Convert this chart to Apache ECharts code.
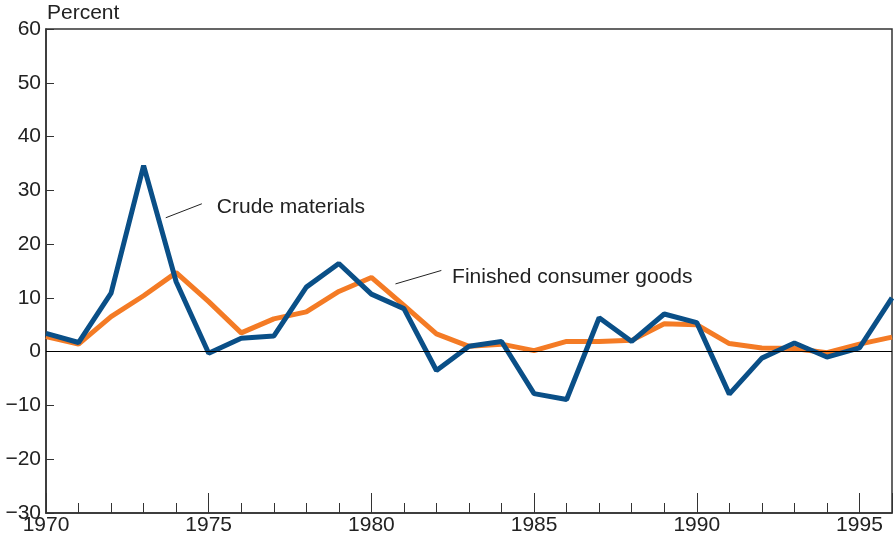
<!DOCTYPE html>
<html><head><meta charset="utf-8">
<script src="https://cdn.jsdelivr.net/npm/echarts@6/dist/echarts.min.js"></script>
<style>html,body{margin:0;padding:0;background:#fff}#c{width:895px;height:546px}</style>
</head><body><div id="c"></div>
<script>
const years = [1970,1971,1972,1973,1974,1975,1976,1977,1978,1979,1980,1981,1982,1983,1984,1985,1986,1987,1988,1989,1990,1991,1992,1993,1994,1995,1996];
const crudeMaterials = [3.4,1.7,10.9,34.6,13.0,-0.3,2.5,2.9,12.0,16.4,10.7,8.0,-3.5,1.0,1.9,-7.8,-8.9,6.3,1.9,7.0,5.4,-7.9,-1.2,1.6,-1.0,0.7,10.0];
const finishedConsumerGoods = [2.8,1.4,6.5,10.4,14.7,9.3,3.5,6.1,7.4,11.2,13.8,8.6,3.3,1.0,1.4,0.2,1.9,1.9,2.1,5.2,5.0,1.5,0.7,0.6,-0.2,1.4,2.7];
const yTicks = {min:-30, max:60, interval:10};
const labelCrude = 'Crude materials';
const labelFinished = 'Finished consumer goods';
const unitLabel = 'Percent';

const FONT = '"Liberation Sans", Arial, sans-serif';
const FS = 21;
const chart = echarts.init(document.getElementById('c'), null, {renderer:'canvas'});
const pair = (xs, ys) => xs.map((x,i)=>[x, ys[i]]);
chart.setOption({
  animation:false,
  grid:{left:46, right:2, top:29, bottom:33, show:true, borderColor:'#333', borderWidth:1.5},
  xAxis:[
    {type:'value', min:1970, max:1996, interval:5,
     axisLine:{show:true, onZero:false, lineStyle:{color:'#333', width:1.5}},
     axisTick:{show:true, inside:true, length:20, lineStyle:{color:'#333', width:1}},
     axisLabel:{color:'#222', fontFamily:FONT, fontSize:FS, margin:2,
       formatter:v=> (v%5===0 && v<1996)? String(v):''},
     splitLine:{show:false}},
    {type:'value', min:1970, max:1996, interval:1, position:'bottom',
     axisLine:{show:false, onZero:false},
     axisTick:{show:true, inside:true, length:10, lineStyle:{color:'#333', width:1}},
     axisLabel:{show:false}, splitLine:{show:false}}
  ],
  yAxis:{type:'value', min:yTicks.min, max:yTicks.max, interval:yTicks.interval,
    axisLine:{show:true, onZero:false, lineStyle:{color:'#333', width:1.5}},
    axisTick:{show:true, inside:true, length:8, lineStyle:{color:'#333', width:1}},
    axisLabel:{color:'#222', fontFamily:FONT, fontSize:FS, margin:5,
      formatter:v=> String(v).replace('-', '\u2212')},
    splitLine:{show:false}},
  series:[
    {type:'line', data:[], z:1, silent:true,
     markLine:{silent:true, symbol:'none', label:{show:false},
       lineStyle:{color:'#000', width:1, type:'solid'}, data:[{yAxis:0}]}},
    {name:labelFinished, type:'line', data:pair(years, finishedConsumerGoods), showSymbol:false,
     lineStyle:{color:'#f47b25', width:5}, itemStyle:{color:'#f47b25'}, z:3},
    {name:labelCrude, type:'line', data:pair(years, crudeMaterials), showSymbol:false,
     lineStyle:{color:'#0a4f87', width:5}, itemStyle:{color:'#0a4f87'}, z:4}
  ]
});
const P = (x,y)=>chart.convertToPixel({xAxisIndex:0, yAxisIndex:0},[x,y]);
const a1 = P(1973.68,24.9), a2 = P(1974.79,27.5), t1 = P(1975.25,26.8);
const b1 = P(1980.74,12.6), b2 = P(1982.15,15.1), t2 = P(1982.48,13.8);
chart.setOption({graphic:[
  {type:'text', left:47, top:3, style:{text:unitLabel, font:FS+'px '+FONT, fill:'#222'}},
  {type:'line', shape:{x1:a1[0],y1:a1[1],x2:a2[0],y2:a2[1]}, style:{stroke:'#222', lineWidth:1}},
  {type:'text', x:t1[0], y:t1[1], style:{text:labelCrude, font:FS+'px '+FONT, fill:'#222', textVerticalAlign:'middle'}},
  {type:'line', shape:{x1:b1[0],y1:b1[1],x2:b2[0],y2:b2[1]}, style:{stroke:'#222', lineWidth:1}},
  {type:'text', x:t2[0], y:t2[1], style:{text:labelFinished, font:FS+'px '+FONT, fill:'#222', textVerticalAlign:'middle'}}
]});
</script></body></html>
